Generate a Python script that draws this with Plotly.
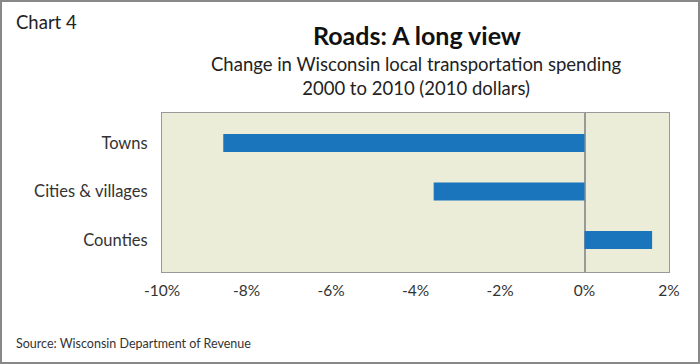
import plotly.graph_objects as go

categories = ["Counties", "Cities & villages", "Towns"]
values = [1.6, -3.57, -8.55]
x_ticks = [-10, -8, -6, -4, -2, 0, 2]
x_tick_labels = ["-10%", "-8%", "-6%", "-4%", "-2%", "0%", "2%"]

FONT = "Lato, 'Noto Sans', sans-serif"

fig = go.Figure()
fig.add_trace(go.Bar(
    x=values, y=categories, orientation="h",
    marker=dict(color="#1B75BC", line=dict(width=0)),
    width=0.37,
))

fig.update_layout(
    width=700, height=364,
    margin=dict(l=162, r=31, t=113, b=92),
    paper_bgcolor="white",
    plot_bgcolor="#EBEDD9",
    showlegend=False,
    font=dict(family=FONT, color="#333333"),
    xaxis=dict(
        range=[-10, 2], tickvals=x_ticks, ticktext=x_tick_labels,
        showgrid=False, zeroline=True, zerolinecolor="#999999", zerolinewidth=1.5,
        showline=True, linecolor="#999999", linewidth=1, mirror=True,
        ticks="outside", ticklen=4, tickcolor="rgba(0,0,0,0)",
        tickfont=dict(size=15.5, color="#333333"),
    ),
    yaxis=dict(
        range=[-0.66, 2.62], showgrid=False, zeroline=False,
        showline=True, linecolor="#999999", linewidth=1, mirror=True,
        ticks="outside", ticklen=10, tickcolor="rgba(0,0,0,0)",
        tickfont=dict(size=16.5, color="#333333"),
    ),
)

fig.add_annotation(text="Chart 4", xref="paper", yref="paper",
                   x=-148/507, y=1 + (113 - 22) / 159, xanchor="left", yanchor="middle",
                   showarrow=False, font=dict(size=18.5, color="#222222", family=FONT))
fig.add_annotation(text="<b>Roads: A long view</b>", xref="paper", yref="paper",
                   x=(417 - 162) / 507, y=1 + (113 - 35) / 159, xanchor="center", yanchor="middle",
                   showarrow=False, font=dict(size=25, color="#111111", family=FONT))
fig.add_annotation(text="Change in Wisconsin local transportation spending<br>2000 to 2010 (2010 dollars)",
                   xref="paper", yref="paper",
                   x=(416 - 162) / 507, y=1 + (113 - 76) / 159, xanchor="center", yanchor="middle",
                   showarrow=False, align="center",
                   font=dict(size=18.5, color="#222222", family=FONT))
fig.add_annotation(text="Source: Wisconsin Department of Revenue", xref="paper", yref="paper",
                   x=-148/507, y=-(343 - 272) / 159, xanchor="left", yanchor="middle",
                   showarrow=False, font=dict(size=12.5, color="#333333", family=FONT))

# outer frame
fig.add_shape(type="rect", xref="paper", yref="paper",
              x0=-161/507, x1=(699 - 162) / 507, y0=-(363 - 272) / 159, y1=1 + 112/159,
              line=dict(color="#888888", width=2), layer="below")

fig.write_html("out.html", config={"displayModeBar": False},
               post_script="document.body.style.margin='0';")
